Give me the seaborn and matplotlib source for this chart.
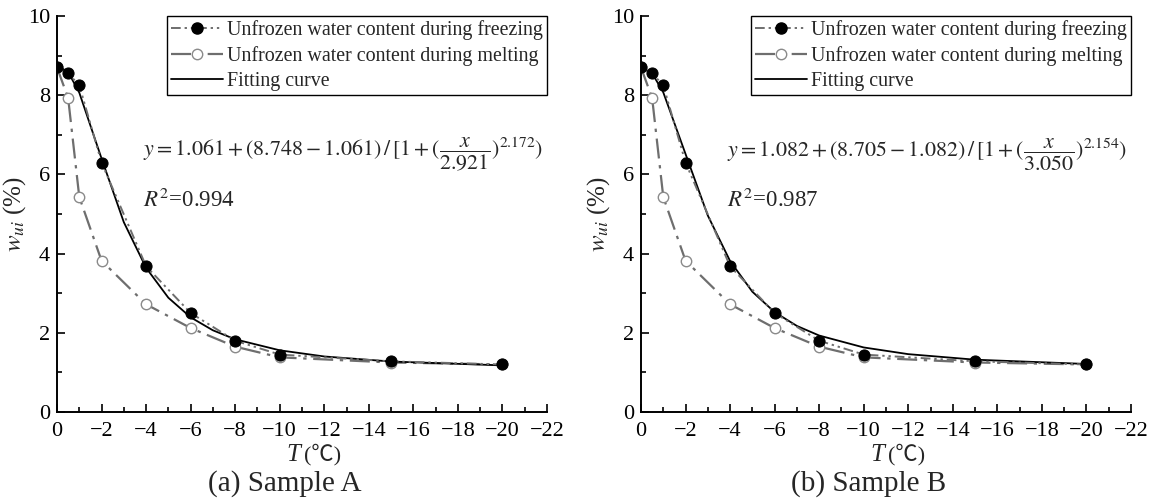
import numpy as np
import pandas as pd
import seaborn as sns
import matplotlib.pyplot as plt
from matplotlib.lines import Line2D
from matplotlib.ticker import MultipleLocator

# measured points (same for both samples)
temps = [0, -0.5, -1, -2, -4, -6, -8, -10, -15, -20]
freezing = [8.70, 8.55, 8.25, 6.30, 3.68, 2.50, 1.80, 1.45, 1.28, 1.20]
melting = [8.70, 7.93, 5.43, 3.82, 2.72, 2.12, 1.65, 1.38, 1.25, 1.20]

# fitting curves as drawn
fit_temps = [0, -0.5, -1, -2, -3, -4, -5, -6, -7, -8, -10, -12, -15, -20]
fit_a = [8.748, 8.585, 8.065, 6.402, 4.793, 3.641, 2.885, 2.391, 2.063, 1.836, 1.558, 1.402, 1.275, 1.177]
fit_b = [8.705, 8.553, 8.072, 6.515, 4.961, 3.811, 3.037, 2.521, 2.173, 1.931, 1.630, 1.461, 1.321, 1.213]

equations = [r"$y=1.061+(8.748-1.061)\,/\,[1+(\dfrac{x}{2.921})^{2.172})$",
             r"$y=1.082+(8.705-1.082)\,/\,[1+(\dfrac{x}{3.050})^{2.154})$"]
r2_values = ["0.994", "0.987"]
captions = ["(a) Sample A", "(b) Sample B"]
labels = ["Unfrozen water content during freezing",
          "Unfrozen water content during melting",
          "Fitting curve"]

sns.set_theme(style="ticks")
plt.rcParams["font.family"] = ["Liberation Serif", "Noto Sans CJK SC"]
plt.rcParams["mathtext.fontset"] = "stix"
plt.rcParams["axes.unicode_minus"] = True

W, H = 1160, 501
fig = plt.figure(figsize=(W / 100, H / 100), dpi=100)

gray = "#6e6e6e"
dash_freeze = (0, (5, 2, 1.2, 2, 1.2, 2))
dash_melt = (0, (9, 3, 1.5, 3))

lefts = [57, 641]
for i, left in enumerate(lefts):
    ax = fig.add_axes([left / W, (H - 412) / H, 490 / W, 396 / H])
    fit = fit_a if i == 0 else fit_b
    df = pd.DataFrame({"T": temps, "freeze": freezing, "melt": melting})
    dfit = pd.DataFrame({"T": fit_temps, "fit": fit})

    sns.lineplot(data=df, x="T", y="melt", ax=ax, sort=False, color=gray,
                 linestyle=dash_melt, linewidth=1.6, marker="o", markersize=7.5,
                 markerfacecolor="white", markeredgecolor="#8a8a8a", markeredgewidth=1.0, zorder=2)
    sns.lineplot(data=dfit, x="T", y="fit", ax=ax, sort=False, color="black",
                 linewidth=1.3, zorder=3)
    sns.lineplot(data=df, x="T", y="freeze", ax=ax, sort=False, color=gray,
                 linestyle=dash_freeze, linewidth=1.4, zorder=4)
    sns.lineplot(data=df, x="T", y="freeze", ax=ax, sort=False, color="black",
                 linestyle="none", marker="o", markersize=8,
                 markerfacecolor="black", markeredgecolor="black", zorder=5)

    ax.set_xlim(0, -22)
    ax.set_ylim(0, 10)
    ax.xaxis.set_major_locator(MultipleLocator(2))
    ax.xaxis.set_minor_locator(MultipleLocator(1))
    ax.yaxis.set_major_locator(MultipleLocator(2))
    ax.yaxis.set_minor_locator(MultipleLocator(1))
    ax.tick_params(which="both", direction="in", width=1.2, colors="black", labelsize=16)
    ax.tick_params(which="major", length=6)
    ax.tick_params(which="minor", length=3.5)
    ax.tick_params(axis="x", pad=7)
    ax.tick_params(axis="y", pad=5)
    for s in ["top", "right"]:
        ax.spines[s].set_visible(False)
    for s in ["left", "bottom"]:
        ax.spines[s].set_linewidth(1.4)
        ax.spines[s].set_color("black")
    ax.set_xlabel("")
    ax.set_ylabel(r"$w_{ui}$ (%)", fontsize=18, labelpad=0)

    handles = [
        Line2D([], [], color=gray, linestyle=dash_freeze, linewidth=1.4, marker="o",
               markersize=8, markerfacecolor="black", markeredgecolor="black"),
        Line2D([], [], color=gray, linestyle=dash_melt, linewidth=1.6, marker="o",
               markersize=7.5, markerfacecolor="white", markeredgecolor="#8a8a8a"),
        Line2D([], [], color="black", linewidth=1.3),
    ]
    leg = ax.legend(handles, labels, loc="upper right", bbox_to_anchor=(1.0, 1.0),
                    borderaxespad=0, fancybox=False, framealpha=1, edgecolor="black",
                    fontsize=14.4, handlelength=2.6, handletextpad=0.2,
                    labelspacing=0.3, borderpad=0.2)
    leg.get_frame().set_linewidth(1.0)

    ax.text(-3.85, 6.5, equations[i], fontsize=15.8, va="center", ha="left")
    ax.text(-3.85, 5.35, r"$R^2$=" + r2_values[i], fontsize=16.5, va="center", ha="left")

    cx = (left + 245) / W
    fig.text(cx - 2 / W, (H - 455) / H, "T", fontsize=18, style="italic", ha="right", va="center")
    fig.text(cx + 2 / W, (H - 455) / H, "(℃)", fontsize=16, ha="left", va="center")
    fig.text((left + 228) / W, (H - 484) / H, captions[i], fontsize=21, ha="center", va="center")

fig.savefig("out.png", dpi=100)
